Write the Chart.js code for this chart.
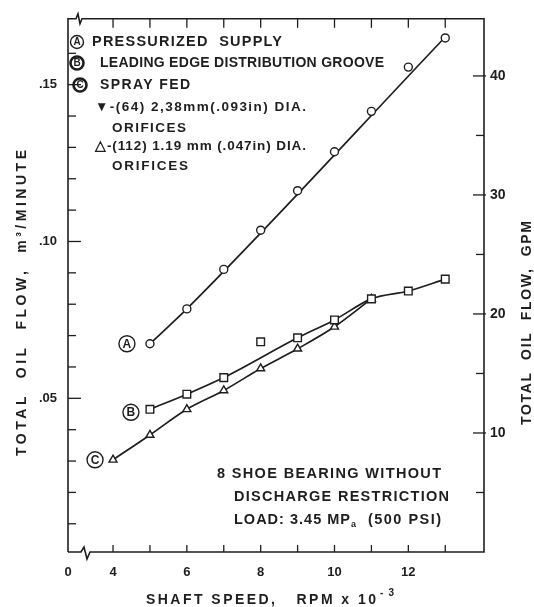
<!DOCTYPE html>
<html>
<head>
<meta charset="utf-8">
<script src="https://cdn.jsdelivr.net/npm/chart.js@4.4.0/dist/chart.umd.min.js"></script>
<style>
  html, body { margin: 0; padding: 0; background: #fff; }
</style>
</head>
<body>
<canvas id="flow-chart" width="534" height="607"></canvas>
<script>
// values (shaft speed in RPM x 10^-3, flow in m3/min)
const speedA = [5, 6, 7, 8, 9, 10, 11, 12, 13];
const flowA = [0.0674, 0.0785, 0.0911, 0.1036, 0.1162, 0.1286, 0.1415, 0.1556, 0.1649];
// faired line drawn through curve A
const fairSpeedA = [5, 6, 13];
const fairFlowA = [0.0674, 0.0785, 0.1652];

const speedB = [5, 6, 7, 8, 9, 10, 11, 12, 13];
const flowB = [0.0465, 0.0513, 0.0566, 0.0680, 0.0693, 0.0750, 0.0817, 0.0842, 0.0880];
const onCurveB = [true, true, true, false, true, true, true, true, true]; // the 8k point sits off the curve

const speedC = [4, 5, 6, 7, 8, 9, 10, 11];
const flowC = [0.0304, 0.0383, 0.0465, 0.0525, 0.0595, 0.0658, 0.0728, 0.0817];

// axes
const xMin = 2.78, xMax = 14.05;
const xTickValues = [4, 5, 6, 7, 8, 9, 10, 11, 12, 13];
const xLabelValues = [4, 6, 8, 10, 12];

const flowMin = 0.001, flowMax = 0.171;
const flowTickValues = [0.01, 0.02, 0.03, 0.04, 0.05, 0.06, 0.07, 0.08, 0.09, 0.10, 0.11, 0.12, 0.13, 0.14, 0.15, 0.16];
const flowLabelValues = [0.05, 0.10, 0.15];
const flowLabelText = [".05", ".10", ".15"];

const gpmMin = 0, gpmMax = 44.8;
const gpmTickValues = [5, 10, 15, 20, 25, 30, 35, 40];
const gpmLabelValues = [10, 20, 30, 40];

const INK = "#1e1e1e";
const FONT = "'Liberation Sans', Arial, sans-serif";

const pts = (xs, ys) => xs.map((x, i) => ({ x: x, y: ys[i] }));
const near = (a, b) => Math.abs(a - b) < 1e-6;

Chart.defaults.font.family = FONT;
Chart.defaults.color = INK;

// frame, inward ticks, notes and axis titles
const sketchDecor = {
  id: "sketchDecor",
  afterDraw(chart) {
    const { ctx, chartArea: a, scales } = chart;
    const line = (x1, y1, x2, y2) => { ctx.beginPath(); ctx.moveTo(x1, y1); ctx.lineTo(x2, y2); ctx.stroke(); };
    ctx.save();
    ctx.strokeStyle = INK;
    ctx.fillStyle = INK;
    ctx.lineWidth = 1.6;

    // frame with break marks at the left of top and bottom edges
    ctx.beginPath();
    ctx.moveTo(a.left, a.bottom);
    ctx.lineTo(a.left, a.top);
    ctx.lineTo(a.left + 8, a.top);
    ctx.lineTo(a.left + 10, a.top - 5);
    ctx.lineTo(a.left + 12, a.top + 5);
    ctx.lineTo(a.left + 14, a.top);
    ctx.lineTo(a.right, a.top);
    ctx.lineTo(a.right, a.bottom);
    ctx.lineTo(a.left + 22, a.bottom);
    ctx.lineTo(a.left + 19, a.bottom + 7);
    ctx.lineTo(a.left + 16, a.bottom - 5);
    ctx.lineTo(a.left + 13, a.bottom);
    ctx.lineTo(a.left, a.bottom);
    ctx.stroke();

    ctx.lineWidth = 1.3;
    xTickValues.forEach(v => {
      const px = scales.x.getPixelForValue(v);
      line(px, a.bottom, px, a.bottom - 7);
      line(px, a.top, px, a.top + 9);
    });
    flowTickValues.forEach(v => {
      const py = scales.y.getPixelForValue(v);
      const major = flowLabelValues.some(m => near(m, v));
      line(a.left, py, a.left + (major ? 13 : 8), py);
    });
    gpmTickValues.forEach(v => {
      const py = scales.y2.getPixelForValue(v);
      const major = gpmLabelValues.includes(v);
      line(a.right + (major ? 2 : 0), py, a.right - (major ? 11 : 8), py);
    });

    // circled series letters
    const circled = (cx, cy, letter, r, heavy) => {
      ctx.lineWidth = heavy ? 2.6 : 1.4;
      ctx.beginPath(); ctx.arc(cx, cy, r, 0, Math.PI * 2); ctx.stroke();
      ctx.font = "bold " + Math.round(r * 1.5) + "px " + FONT;
      ctx.letterSpacing = "0px";
      ctx.textAlign = "center"; ctx.textBaseline = "middle";
      ctx.fillText(letter, cx, cy + 0.5);
    };
    circled(scales.x.getPixelForValue(speedA[0]) - 23, scales.y.getPixelForValue(flowA[0]), "A", 8, false);
    circled(scales.x.getPixelForValue(speedB[0]) - 19, scales.y.getPixelForValue(flowB[0]) + 3, "B", 8, false);
    circled(scales.x.getPixelForValue(speedC[0]) - 18, scales.y.getPixelForValue(flowC[0]), "C", 8, false);

    // text stretched between two x positions, like the hand lettering
    const fitText = (s, x1, y, size, x2) => {
      ctx.font = "bold " + size + "px " + FONT;
      ctx.letterSpacing = "0px";
      const w0 = ctx.measureText(s).width;
      const sp = (x2 - x1 - w0) / Math.max(1, s.length - 1);
      ctx.letterSpacing = sp + "px";
      ctx.textAlign = "left"; ctx.textBaseline = "middle";
      ctx.fillText(s, x1, y);
      ctx.letterSpacing = "0px";
      return x2;
    };

    // key in the upper left
    circled(77, 42, "A", 6.5, false);
    circled(77, 63, "B", 6.5, true);
    circled(80, 85, "C", 6.5, true);
    fitText("PRESSURIZED  SUPPLY", 92, 42, 14.5, 282);
    fitText("LEADING EDGE DISTRIBUTION GROOVE", 100, 63, 14, 384);
    fitText("SPRAY FED", 100, 85, 14, 190);
    fitText("\u25BC-(64) 2,38mm(.093in) DIA.", 95, 107, 13.5, 306);
    fitText("ORIFICES", 112, 128, 13.5, 186);
    fitText("\u25B3-(112) 1.19 mm (.047in) DIA.", 95, 146, 13.5, 306);
    fitText("ORIFICES", 112, 166, 13.5, 188);

    // test conditions note
    fitText("8 SHOE BEARING WITHOUT", 217, 474, 14.5, 441);
    fitText("DISCHARGE RESTRICTION", 234, 497, 14.5, 449);
    let nx = fitText("LOAD: 3.45 MP", 234, 520, 14.5, 350);
    ctx.font = "bold 9px " + FONT;
    ctx.fillText("a", nx + 1, 525);
    fitText("(500 PSI)", 368, 520, 14.5, 441);

    // x title with superscript
    fitText("SHAFT SPEED,   RPM x 10", 146, 600, 14, 376);
    fitText("- 3", 380, 593, 10, 394);

    // rotated titles, both read bottom to top
    const sideTitle = (s, cx, cy, size, len) => {
      ctx.save();
      ctx.translate(cx, cy);
      ctx.rotate(-Math.PI / 2);
      fitText(s, -len / 2, 0, size, len / 2);
      ctx.restore();
    };
    sideTitle("TOTAL  OIL  FLOW,  m\u00B3/MINUTE", 22, 303, 14, 306);
    sideTitle("TOTAL  OIL  FLOW,  GPM", 527, 323, 14, 204);

    ctx.restore();
  }
};

const lineStyle = {
  borderColor: INK,
  borderWidth: 1.7,
  showLine: true,
  pointRadius: 0,
  cubicInterpolationMode: "monotone",
  order: 3
};
const markStyle = {
  showLine: false,
  borderColor: INK,
  backgroundColor: "#fff",
  pointBackgroundColor: "#fff",
  pointBorderColor: INK,
  pointBorderWidth: 1.4,
  order: 1
};

new Chart(document.getElementById("flow-chart"), {
  type: "scatter",
  data: {
    datasets: [
      Object.assign({ label: "A line", data: pts(fairSpeedA, fairFlowA) }, lineStyle),
      Object.assign({ label: "B line", data: pts(speedB, flowB).filter((p, i) => onCurveB[i]) }, lineStyle),
      Object.assign({ label: "C line", data: pts(speedC, flowC) }, lineStyle),
      Object.assign({ label: "Pressurized supply", data: pts(speedA, flowA), pointStyle: "circle", pointRadius: 4 }, markStyle),
      Object.assign({ label: "Leading edge distribution groove", data: pts(speedB, flowB), pointStyle: "rect", pointRadius: 5.4 }, markStyle),
      Object.assign({ label: "Spray fed", data: pts(speedC, flowC), pointStyle: "triangle", pointRadius: 4.6 }, markStyle)
    ]
  },
  options: {
    responsive: false,
    animation: false,
    events: [],
    layout: { padding: { top: 15, left: 0, right: 0, bottom: 0 } },
    plugins: { legend: { display: false }, tooltip: { enabled: false } },
    scales: {
      x: {
        type: "linear",
        min: xMin,
        max: xMax,
        grid: { display: false, drawTicks: false },
        border: { display: false },
        afterFit: function (scale) { scale.height = 55; },
        afterBuildTicks: function (scale) {
          scale.ticks = [{ value: xMin }].concat(xTickValues.map(v => ({ value: v })));
        },
        ticks: {
          padding: 13,
          maxRotation: 0,
          autoSkip: false,
          font: { size: 13, weight: "bold" },
          callback: function (value) {
            if (near(value, xMin)) return "0";
            return xLabelValues.includes(value) ? String(value) : "";
          }
        }
      },
      y: {
        position: "left",
        min: flowMin,
        max: flowMax,
        grid: { display: false, drawTicks: false },
        border: { display: false },
        afterFit: function (scale) { scale.width = 68; },
        afterBuildTicks: function (scale) {
          scale.ticks = flowTickValues.map(v => ({ value: v }));
        },
        ticks: {
          padding: 11,
          autoSkip: false,
          font: { size: 13, weight: "bold" },
          callback: function (value) {
            const i = flowLabelValues.findIndex(m => near(m, value));
            return i >= 0 ? flowLabelText[i] : "";
          }
        }
      },
      y2: {
        position: "right",
        min: gpmMin,
        max: gpmMax,
        grid: { display: false, drawTicks: false },
        border: { display: false },
        afterFit: function (scale) { scale.width = 50; },
        afterBuildTicks: function (scale) {
          scale.ticks = gpmTickValues.map(v => ({ value: v }));
        },
        ticks: {
          padding: 6,
          autoSkip: false,
          font: { size: 14, weight: "bold" },
          callback: function (value) {
            return gpmLabelValues.includes(value) ? String(value) : "";
          }
        }
      }
    }
  },
  plugins: [sketchDecor]
});
</script>
</body>
</html>
